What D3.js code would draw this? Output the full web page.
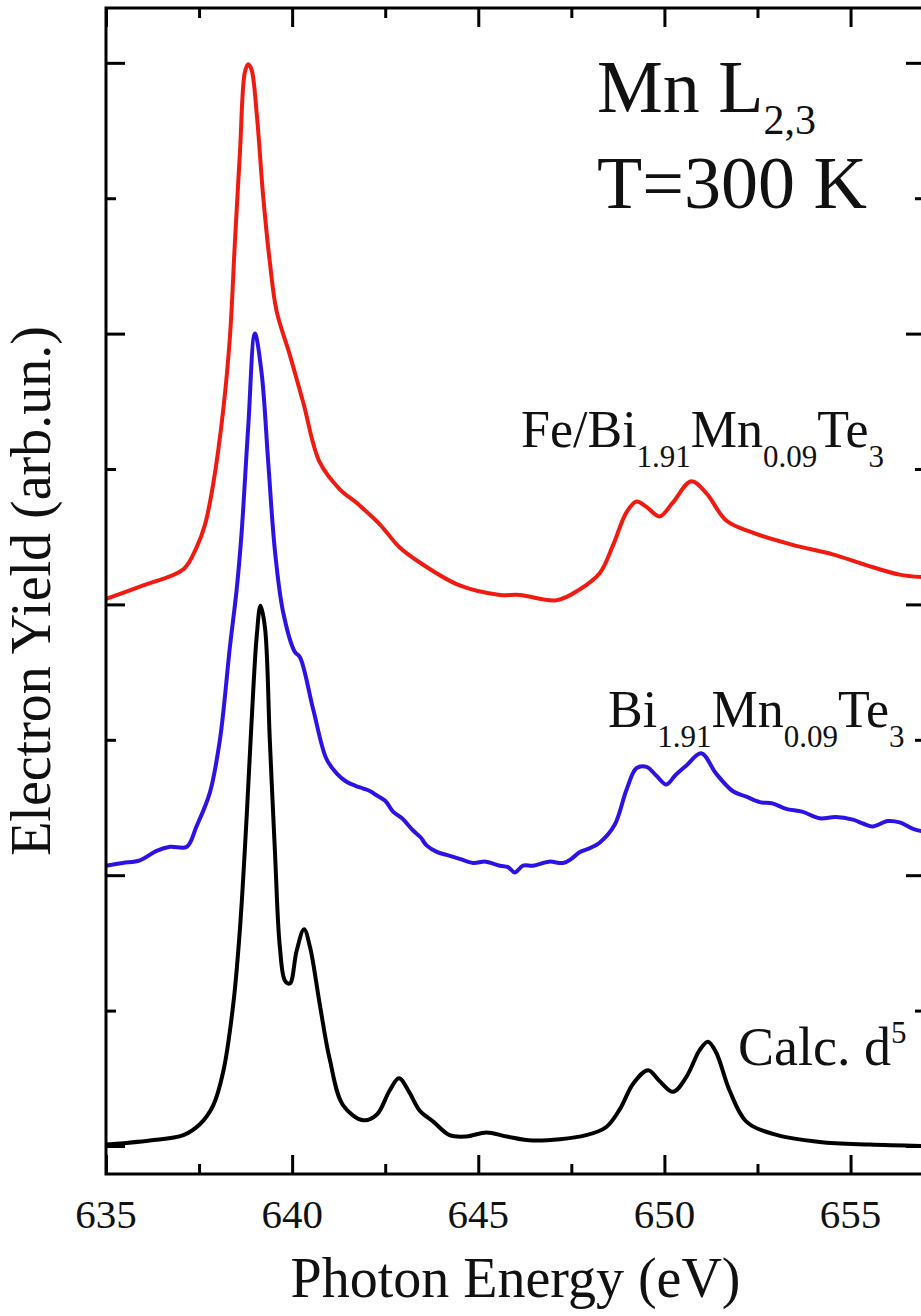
<!DOCTYPE html>
<html>
<head>
<meta charset="utf-8">
<script src="https://d3js.org/d3.v7.min.js"></script>
<style>
  body { margin: 0; background: #fff; }
  svg text { font-family: "Liberation Serif", "DejaVu Serif", serif; fill: #111; }
</style>
</head>
<body>
<svg id="chart" width="921" height="1316"></svg>
<script>
// Fe/Bi1.91Mn0.09Te3 (red), shifted up
var fe_energy = [635.00, 636.00, 637.08, 637.43, 637.66, 637.88, 638.15, 638.33, 638.46, 638.60, 638.73, 638.82,
  638.91, 639.05, 639.22, 639.40, 639.58, 639.94, 640.30, 640.74, 641.28, 641.73, 642.36, 642.89, 643.48, 644.50,
  645.58, 646.11, 647.10, 647.72, 648.26, 648.61, 648.98, 649.25, 649.52, 649.87, 650.22, 650.72, 651.13, 651.66,
  652.37, 653.44, 654.52, 655.42, 656.32, 657.00];
var fe_yield = [4.04, 4.14, 4.26, 4.42, 4.59, 4.89, 5.44, 5.98, 6.66, 7.35, 7.93, 7.99,
  7.95, 7.62, 7.02, 6.53, 6.17, 5.84, 5.49, 5.05, 4.85, 4.75, 4.59, 4.42, 4.30, 4.14,
  4.07, 4.07, 4.03, 4.11, 4.23, 4.43, 4.68, 4.76, 4.72, 4.65, 4.75, 4.91, 4.82, 4.62,
  4.53, 4.44, 4.37, 4.29, 4.22, 4.20];

// Bi1.91Mn0.09Te3 (blue)
var bmt_energy = [635.00, 635.45, 635.91, 636.36, 636.72, 637.17, 637.43, 637.79, 638.06, 638.33, 638.51, 638.64,
  638.82, 639.00, 639.18, 639.36, 639.54, 639.76, 640.07, 640.21, 640.57, 640.92, 641.20, 641.46, 641.70, 641.91,
  642.10, 642.27, 642.50, 642.71, 642.95, 643.25, 643.45, 643.61, 643.90, 644.15, 644.50, 644.86, 645.20, 645.58,
  645.80, 645.98, 646.20, 646.47, 646.90, 647.28, 647.50, 647.72, 648.00, 648.26, 648.66, 648.98, 649.25, 649.52,
  649.80, 650.05, 650.30, 650.59, 650.99, 651.39, 651.84, 652.20, 652.56, 652.90, 653.27, 653.70, 654.17, 654.60,
  655.06, 655.35, 655.60, 656.00, 656.32, 656.70, 657.00];
var bmt_yield = [2.07, 2.09, 2.11, 2.18, 2.21, 2.21, 2.36, 2.61, 3.00, 3.69, 4.11, 4.52,
  5.31, 6.00, 5.71, 5.04, 4.39, 3.94, 3.65, 3.61, 3.22, 2.86, 2.75, 2.69, 2.66, 2.64,
  2.62, 2.59, 2.55, 2.47, 2.42, 2.33, 2.28, 2.22, 2.17, 2.15, 2.12, 2.09, 2.10, 2.07,
  2.06, 2.02, 2.07, 2.07, 2.10, 2.09, 2.12, 2.17, 2.20, 2.24, 2.37, 2.63, 2.79, 2.80,
  2.73, 2.67, 2.74, 2.81, 2.90, 2.75, 2.62, 2.58, 2.54, 2.53, 2.49, 2.47, 2.42, 2.43,
  2.41, 2.38, 2.36, 2.40, 2.39, 2.34, 2.32];

// calculated d5 spectrum (black)
var calc_energy = [635.00, 636.18, 637.08, 637.52, 637.88, 638.15, 638.42, 638.60, 638.78, 638.91, 639.05, 639.15,
  639.27, 639.40, 639.54, 639.67, 639.81, 639.94, 640.12, 640.32, 640.48, 640.74, 641.01, 641.37, 641.91, 642.27,
  642.62, 642.87, 643.16, 643.43, 643.79, 644.23, 644.68, 645.22, 645.76, 646.47, 647.90, 648.44, 648.80, 649.16,
  649.56, 649.87, 650.23, 650.59, 650.95, 651.17, 651.39, 651.75, 652.20, 652.91, 654.17, 655.51, 657.00];
var calc_yield = [0.01, 0.04, 0.08, 0.16, 0.30, 0.55, 1.05, 1.61, 2.44, 3.13, 3.77, 3.99,
  3.83, 3.00, 2.16, 1.47, 1.22, 1.20, 1.44, 1.60, 1.47, 1.05, 0.64, 0.30, 0.19, 0.23,
  0.41, 0.50, 0.39, 0.26, 0.18, 0.08, 0.07, 0.10, 0.07, 0.04, 0.08, 0.14, 0.27, 0.46,
  0.56, 0.48, 0.40, 0.51, 0.71, 0.77, 0.69, 0.41, 0.18, 0.09, 0.03, 0.01, 0.00];

var x_major = [635, 640, 645, 650, 655];
var x_minor = [637.5, 642.5, 647.5, 652.5];
var y_major = [0, 2, 4, 6, 8];
var y_minor = [1, 3, 5, 7];

var svg = d3.select("#chart");
// plot frame (the right side falls just outside the picture)
var frame_l = 106, frame_r = 925, frame_t = 8, frame_b = 1174;

var x = d3.scaleLinear().domain([635, 657]).range([frame_l, frame_r]);
var y = d3.scaleLinear().domain([-0.207, 8.405]).range([frame_b, frame_t]);

function zip(a, b) {
  return a.map(function(d, i) { return [d, b[i]]; });
}

var line = d3.line()
  .x(function(d) { return x(d[0]); })
  .y(function(d) { return y(d[1]); })
  .curve(d3.curveCatmullRom.alpha(0.5));

svg.append("clipPath").attr("id", "clip")
  .append("rect").attr("x", frame_l).attr("y", frame_t)
  .attr("width", frame_r - frame_l).attr("height", frame_b - frame_t);

var series = [
  { e: fe_energy, v: fe_yield, color: "#f01a10" },
  { e: bmt_energy, v: bmt_yield, color: "#2c12e4" },
  { e: calc_energy, v: calc_yield, color: "#000" }
];
svg.append("g").attr("clip-path", "url(#clip)")
  .selectAll("path").data(series).enter().append("path")
  .attr("d", function(s) { return line(zip(s.e, s.v)); })
  .attr("fill", "none")
  .attr("stroke", function(s) { return s.color; })
  .attr("stroke-width", 4)
  .attr("stroke-linejoin", "round");

// ticks, all pointing inward
function ticks(axis, vals, size, tr) {
  var g = svg.append("g").attr("transform", tr)
    .call(axis.tickValues(vals).tickSize(-size).tickSizeOuter(0).tickFormat(""));
  g.select(".domain").remove();
  g.selectAll("line").attr("stroke", "#000").attr("stroke-width", 3);
  return g;
}
ticks(d3.axisBottom(x), x_major, 19, "translate(0," + frame_b + ")");
ticks(d3.axisBottom(x), x_minor, 10, "translate(0," + frame_b + ")");
ticks(d3.axisTop(x), x_major, 19, "translate(0," + frame_t + ")");
ticks(d3.axisTop(x), x_minor, 10, "translate(0," + frame_t + ")");
ticks(d3.axisLeft(y), y_major, 19, "translate(" + frame_l + ",0)");
ticks(d3.axisLeft(y), y_minor, 10, "translate(" + frame_l + ",0)");
ticks(d3.axisRight(y), y_major, 19, "translate(" + frame_r + ",0)");
ticks(d3.axisRight(y), y_minor, 10, "translate(" + frame_r + ",0)");

svg.append("rect")
  .attr("x", frame_l).attr("y", frame_t)
  .attr("width", frame_r - frame_l).attr("height", frame_b - frame_t)
  .attr("fill", "none").attr("stroke", "#000").attr("stroke-width", 3);

// tick labels
svg.append("g").selectAll("text").data(x_major).enter().append("text")
  .attr("x", function(d) { return x(d); })
  .attr("y", 1228)
  .attr("text-anchor", "middle")
  .attr("font-size", 41)
  .text(function(d) { return d; });

// axis titles
svg.append("text")
  .attr("x", (frame_l + frame_r) / 2).attr("y", 1297)
  .attr("text-anchor", "middle").attr("font-size", 56)
  .text("Photon Energy (eV)");
svg.append("text")
  .attr("transform", "translate(50," + (frame_t + frame_b) / 2 + ") rotate(-90)")
  .attr("text-anchor", "middle").attr("font-size", 56)
  .text("Electron Yield (arb.un.)");

// text with sub/superscripts: parts = [text, size, shift]
function label(px, py, size, parts) {
  var t = svg.append("text").attr("x", px).attr("y", py).attr("font-size", size);
  var prev = 0;
  parts.forEach(function(p) {
    t.append("tspan").attr("font-size", p[1]).attr("dy", p[2] - prev).text(p[0]);
    prev = p[2];
  });
}
label(597, 112, 74, [["Mn L", 74, 0], ["2,3", 42, 22]]);
label(597, 208, 74, [["T=300 K", 74, 0]]);
label(521, 447, 52, [["Fe/Bi", 52, 0], ["1.91", 31, 20], ["Mn", 52, 0], ["0.09", 31, 20], ["Te", 52, 0], ["3", 31, 20]]);
label(608, 727, 52, [["Bi", 52, 0], ["1.91", 31, 20], ["Mn", 52, 0], ["0.09", 31, 20], ["Te", 52, 0], ["3", 31, 20]]);
label(738, 1065, 54, [["Calc. d", 54, 0], ["5", 31, -22]]);
</script>
</body>
</html>
